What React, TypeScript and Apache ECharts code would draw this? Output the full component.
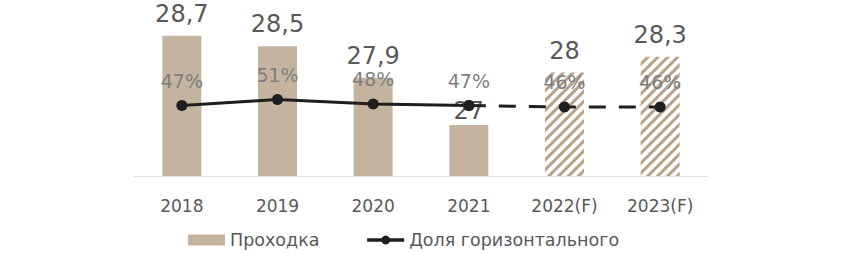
import React, { useEffect, useRef } from "react";
import * as echarts from "echarts";

const categories = ["2018", "2019", "2020", "2021", "2022(F)", "2023(F)"];
const drilling = [28.7, 28.5, 27.9, 27, 28, 28.3];
const forecast = [false, false, false, false, true, true];
const horizontalShareActual: (number | null)[] = [47, 51, 48, 47, null, null];
const horizontalShareForecast: (number | null)[] = [null, null, null, 47, 46, 46];
const horizontalShareLabels = [47, 51, 48, 47, 46, 46];

const BAR = "#C4B49F";
const HATCH = "#B8A389";
const LINE = "#1e1e1e";
const FONT = "DejaVu Sans, Verdana, sans-serif";

export default function App() {
  const ref = useRef<HTMLDivElement>(null);
  useEffect(() => {
    if (!ref.current) return;
    const chart = echarts.init(ref.current, undefined, { renderer: "svg" });
    const barData = drilling.map((v, i) => {
      const item: any = { value: v };
      if (forecast[i]) {
        item.itemStyle = {
          color: "#ffffff",
          decal: {
            symbol: "rect",
            symbolSize: 1,
            color: HATCH,
            backgroundColor: "#ffffff",
            dashArrayX: [1, 0],
            dashArrayY: [3, 4],
            rotation: -Math.PI / 4,
          },
        };
      }
      if (i === 3) item.label = { distance: 2 };
      return item;
    });
    const pctLabel = (p: any) => horizontalShareLabels[p.dataIndex] + "%";
    chart.setOption({
      animation: false,
      textStyle: { fontFamily: FONT },
      grid: { left: 134, right: 150, top: 20, bottom: 77 },
      legend: {
        left: 183,
        top: 226,
        itemWidth: 37,
        itemHeight: 11,
        itemGap: 46,
        textStyle: { fontSize: 17.5, color: "#595959", fontFamily: FONT },
        data: [
          { name: "Проходка", icon: "rect" },
          { name: "Доля горизонтального", lineStyle: { width: 3.5, color: LINE } },
        ],
      },
      xAxis: {
        type: "category",
        data: categories,
        axisTick: { show: false },
        axisLine: { lineStyle: { color: "#e2e2e2", width: 1 } },
        axisLabel: { fontSize: 17, color: "#595959", margin: 21, fontFamily: FONT },
      },
      yAxis: [
        { type: "value", min: 26.03, max: 29, show: false, splitLine: { show: false } },
        { type: "value", min: 0, max: 104, show: false, splitLine: { show: false } },
      ],
      series: [
        {
          name: "Проходка",
          type: "bar",
          data: barData,
          barWidth: 39,
          itemStyle: { color: BAR },
          label: {
            show: true,
            position: "top",
            distance: 10,
            fontSize: 24,
            color: "#595959",
            fontFamily: FONT,
            formatter: (p: any) => String(p.value).replace(".", ","),
          },
          z: 1,
        },
        {
          name: "Доля горизонтального",
          type: "line",
          yAxisIndex: 1,
          data: horizontalShareActual,
          symbol: "circle",
          symbolSize: 11,
          itemStyle: { color: LINE },
          lineStyle: { color: LINE, width: 3 },
          label: {
            show: true,
            position: "top",
            distance: 10,
            fontSize: 19,
            color: "#7f7f7f",
            fontFamily: FONT,
            formatter: pctLabel,
          },
          z: 3,
        },
        {
          name: "Доля горизонтального (F)",
          type: "line",
          yAxisIndex: 1,
          data: horizontalShareForecast,
          symbol: "circle",
          symbolSize: 11,
          itemStyle: { color: LINE },
          lineStyle: { color: LINE, width: 3, type: [17, 13] },
          label: {
            show: true,
            position: "top",
            distance: 10,
            fontSize: 19,
            color: "#7f7f7f",
            fontFamily: FONT,
            formatter: (p: any) => (p.dataIndex >= 4 ? pctLabel(p) : ""),
          },
          z: 3,
        },
      ],
    });
    return () => chart.dispose();
  }, []);
  return (
    <div
      ref={ref}
      style={{ position: "absolute", left: 0, top: 0, width: 858, height: 253 }}
    />
  );
}
